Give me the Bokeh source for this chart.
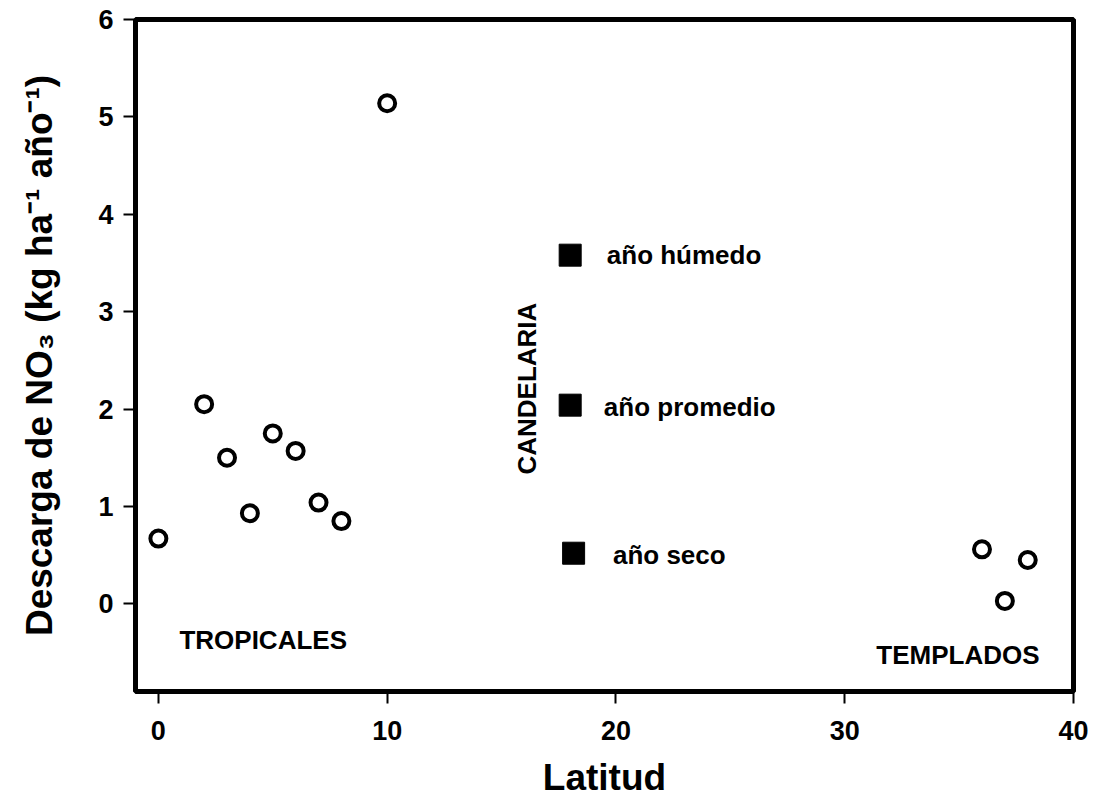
from bokeh.plotting import figure
from bokeh.models import Range1d, FixedTicker
from bokeh.core.properties import value
from bokeh.embed import file_html
from bokeh.resources import INLINE
import math

# --- data ---
open_lat = [0, 2, 3, 4, 5, 6, 7, 8, 10, 36, 37, 38]
open_no3 = [0.67, 2.05, 1.50, 0.93, 1.75, 1.57, 1.04, 0.85, 5.14, 0.56, 0.03, 0.45]

cand_lat = [18.0, 18.0, 18.15]
cand_no3 = [3.58, 2.04, 0.52]
cand_names = ["año húmedo", "año promedio", "año seco"]
cand_label_x = [19.6, 19.47, 19.87]
cand_label_y = [3.58, 2.02, 0.50]

group_names = ["TROPICALES", "TEMPLADOS"]
group_x = [0.92, 31.38]
group_y = [-0.37, -0.53]

x_ticks = [0, 10, 20, 30, 40]
y_ticks = [0, 1, 2, 3, 4, 5, 6]

FONT = "Liberation Sans"

p = figure(width=1097, height=810, output_backend="svg", toolbar_location=None,
           x_range=Range1d(-1, 40), y_range=Range1d(-0.9, 6),
           min_border_left=135, min_border_right=24, min_border_top=19, min_border_bottom=119)
p.grid.visible = False
p.outline_line_color = "black"
p.outline_line_width = 5
p.background_fill_color = "white"
p.border_fill_color = "white"

for ax in (p.xaxis[0], p.yaxis[0]):
    ax.axis_line_color = None
    ax.major_tick_in = 0
    ax.major_tick_out = 12
    ax.major_tick_line_width = 2
    ax.major_tick_line_color = "black"
    ax.minor_tick_line_color = None
    ax.major_label_text_font = FONT
    ax.major_label_text_font_style = "bold"
    ax.major_label_text_font_size = "27px"
    ax.major_label_text_color = "black"
    ax.axis_label_text_font = FONT
    ax.axis_label_text_font_style = "bold"
    ax.axis_label_text_font_size = "37px"
    ax.axis_label_text_color = "black"

p.xaxis[0].ticker = FixedTicker(ticks=x_ticks)
p.yaxis[0].ticker = FixedTicker(ticks=y_ticks)
p.xaxis[0].axis_label = "Latitud"
p.yaxis[0].axis_label = "Descarga de NO₃ (kg ha⁻¹ año⁻¹)"
p.xaxis[0].major_label_standoff = 17
p.yaxis[0].major_label_standoff = 10
p.xaxis[0].axis_label_standoff = 14
p.yaxis[0].axis_label_standoff = 35

p.scatter(open_lat, open_no3, marker="circle", size=16, fill_color="white",
          line_color="black", line_width=4)
p.scatter(cand_lat, cand_no3, marker="square", size=22, fill_color="black",
          line_color="black", line_width=1)

p.text(cand_label_x, cand_label_y, text=cand_names, text_font=value(FONT),
       text_font_style="bold", text_font_size="26px", text_align="left",
       text_baseline="middle", text_color="black")
p.text(group_x, group_y, text=group_names, text_font=value(FONT),
       text_font_style="bold", text_font_size="26px", text_align="left",
       text_baseline="middle", text_color="black")
p.text([16.1], [2.21], text=["CANDELARIA"], angle=math.pi / 2, text_font=value(FONT),
       text_font_style="bold", text_font_size="26px", text_align="center",
       text_baseline="middle", text_color="black")

open("out.html", "w").write(file_html(p, INLINE))
